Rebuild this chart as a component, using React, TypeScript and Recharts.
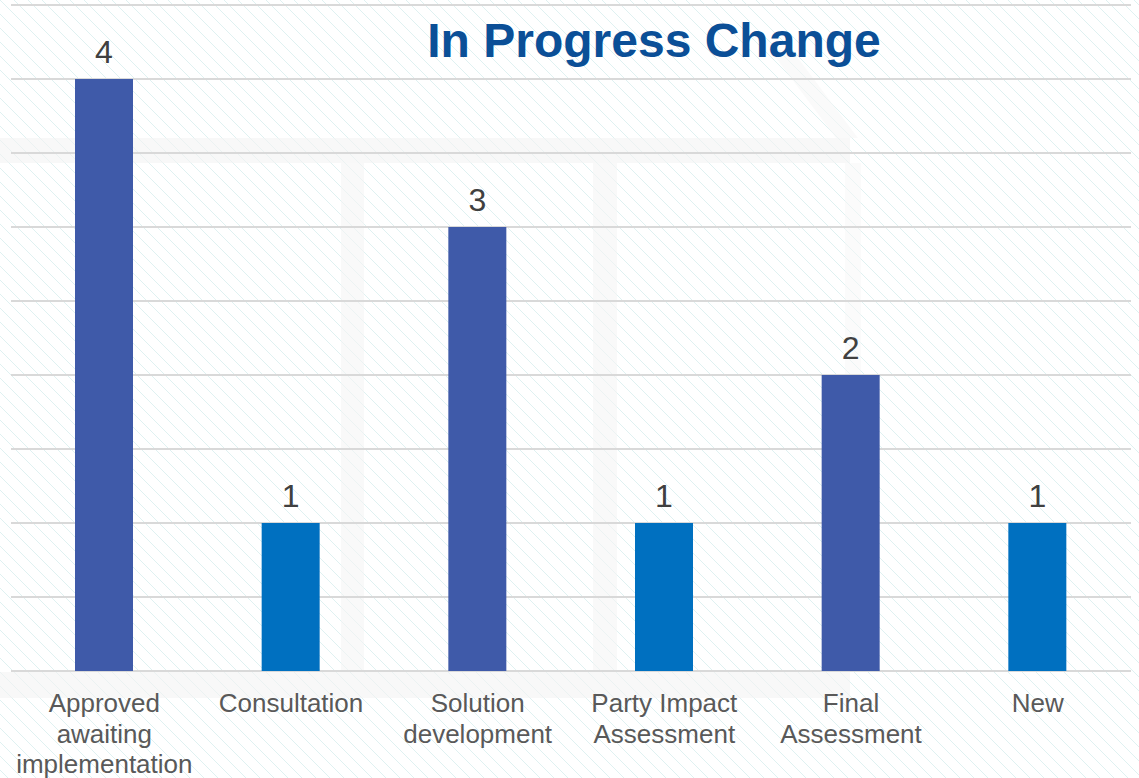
import React from "react";
import { BarChart, Bar, XAxis, YAxis, CartesianGrid, Cell, LabelList } from "recharts";

const categories = [
  "Approved awaiting implementation",
  "Consultation",
  "Solution development",
  "Party Impact Assessment",
  "Final Assessment",
  "New",
];
const tickLines = [
  ["Approved", "awaiting", "implementation"],
  ["Consultation"],
  ["Solution", "development"],
  ["Party Impact", "Assessment"],
  ["Final", "Assessment"],
  ["New"],
];
const counts = [4, 1, 3, 1, 2, 1];
const barColors = ["#3F5AA9", "#0070C0", "#3F5AA9", "#0070C0", "#3F5AA9", "#0070C0"];
const yTicks = [0, 0.5, 1, 1.5, 2, 2.5, 3, 3.5, 4, 4.5];
const title = "In Progress Change";

const data = categories.map((c, i) => ({ name: c, value: counts[i], idx: i }));

const FONT = "'Liberation Sans', Arial, sans-serif";

const Tick = (props: any) => {
  const { x, y, payload } = props;
  const i = categories.indexOf(payload.value);
  const lines = i >= 0 ? tickLines[i] : [String(payload.value)];
  return (
    <text x={x} y={y + 41} textAnchor="middle" fill="#595959" fontSize={26} fontFamily={FONT}>
      {lines.map((l, k) => (
        <tspan key={k} x={x} dy={k === 0 ? 0 : 30.5}>
          {l}
        </tspan>
      ))}
    </text>
  );
};

export default function App() {
  return (
    <div style={{ position: "absolute", left: 0, top: 0, width: 1139, height: 778, background: "#fff", overflow: "hidden" }}>
      <svg width={1139} height={778} style={{ position: "absolute", left: 0, top: 0 }}>
        <defs>
          <pattern id="hatch" patternUnits="userSpaceOnUse" width={14} height={14}>
            <path d="M-1,-1 L15,15 M-8,6 L8,22 M6,-8 L22,8" stroke="#DFF1F1" strokeWidth={1} />
          </pattern>
        </defs>
        <rect x={0} y={0} width={1139} height={778} fill="url(#hatch)" />
        <polygon points="770,50 792,50 858,138 836,138" fill="#F7F7F7" opacity={0.6} />
        <rect x={0} y={138} width={850} height={25} fill="#F4F4F4" opacity={0.6} />
        <rect x={0} y={672} width={850} height={26} fill="#F4F4F4" opacity={0.6} />
        <rect x={341} y={163} width={23} height={509} fill="#F5F5F5" opacity={0.6} />
        <rect x={593} y={163} width={24} height={509} fill="#F5F5F5" opacity={0.6} />
        <rect x={845} y={163} width={16} height={509} fill="#F7F7F7" opacity={0.5} />
        <text x={654} y={57} textAnchor="middle" fill="#0B4F97" fontSize={48} fontWeight="bold" fontFamily={FONT}>
          {title}
        </text>
      </svg>
      <div style={{ position: "absolute", left: 0, top: 0 }}>
        <BarChart width={1139} height={778} data={data} margin={{ top: 5, right: 8, left: 11, bottom: 0 }}>
          <CartesianGrid vertical={false} stroke="#D9D9D9" strokeWidth={2} />
          <XAxis
            dataKey="name"
            height={107}
            axisLine={false}
            tickLine={false}
            tickSize={0}
            tickMargin={0}
            interval={0}
            tick={<Tick />}
          />
          <YAxis hide width={0} domain={[0, 4.5]} ticks={yTicks} />
          <Bar dataKey="value" barSize={58} isAnimationActive={false}>
            {data.map((d, i) => (
              <Cell key={i} fill={barColors[i]} />
            ))}
            <LabelList dataKey="value" position="top" offset={16} fill="#404040" fontSize={32} fontFamily={FONT} />
          </Bar>
        </BarChart>
      </div>
    </div>
  );
}
